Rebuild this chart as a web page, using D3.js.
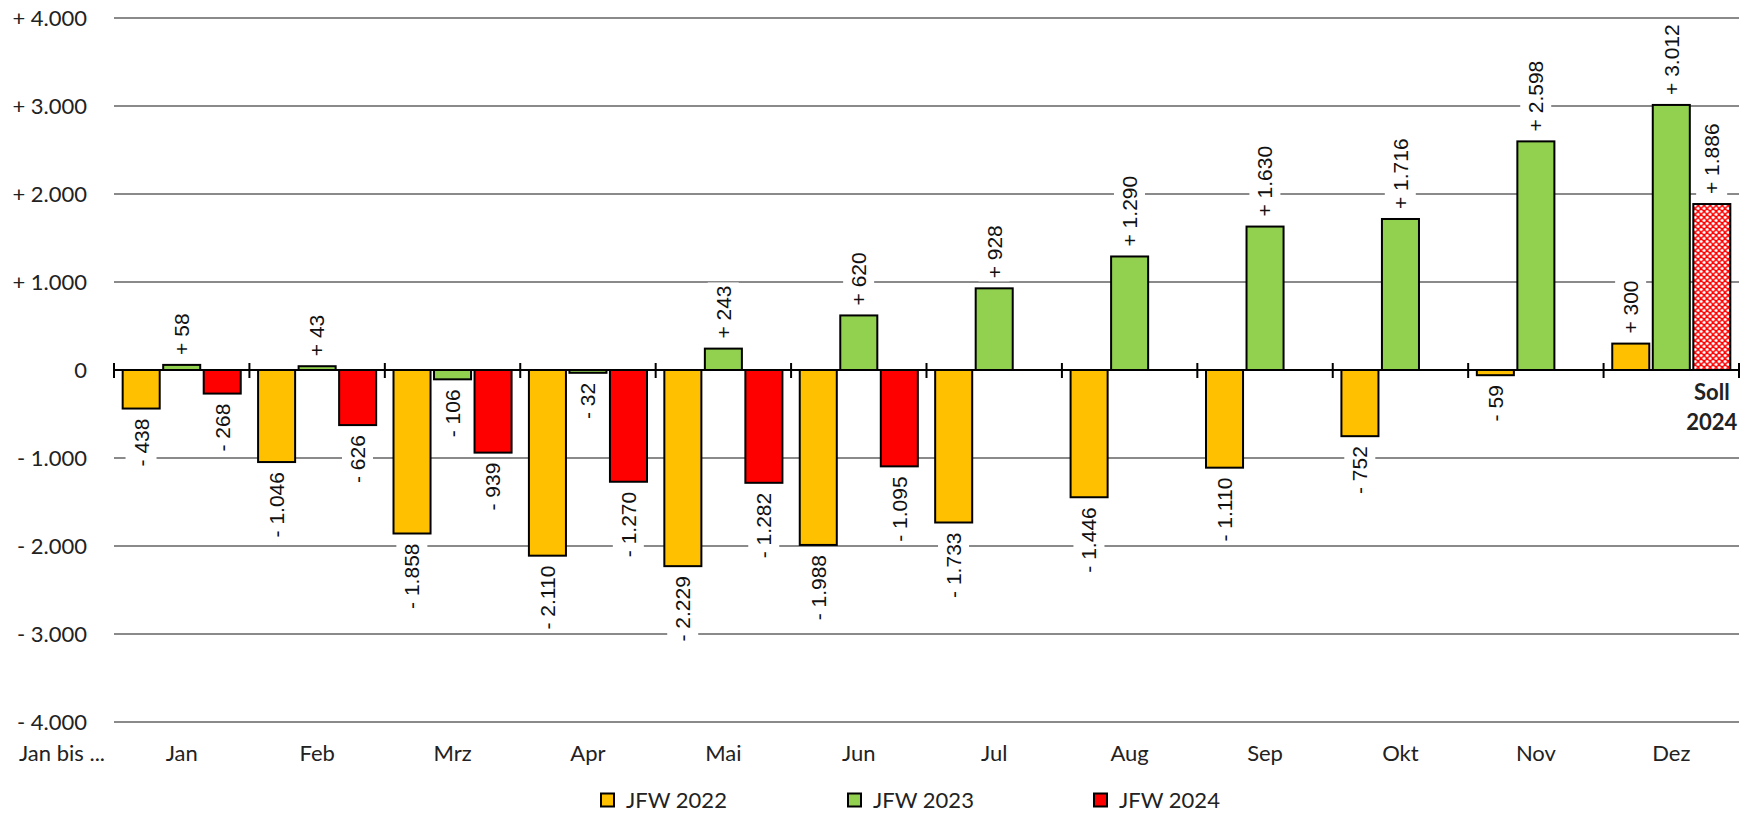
<!DOCTYPE html>
<html>
<head>
<meta charset="utf-8">
<script src="https://cdn.jsdelivr.net/npm/d3@7"></script>
<style>
  body { margin: 0; background: #fff; }
  svg { display: block; }
  .tick-lbl { font-family: Lato, "Open Sans", sans-serif; font-size: 22px; fill: #222; }
  .val-lbl { font-family: "Liberation Sans", Arial, sans-serif; font-size: 21px; fill: #111; }
</style>
</head>
<body>
<svg width="1748" height="813"></svg>
<script>
// months on the category axis
const months = ["Jan", "Feb", "Mrz", "Apr", "Mai", "Jun", "Jul", "Aug", "Sep", "Okt", "Nov", "Dez"];
const seriesNames = ["JFW 2022", "JFW 2023", "JFW 2024"];
const colors = ["#FFC000", "#92D050", "#FF0000"];

// cumulative values per month
const jfw2022 = [-438, -1046, -1858, -2110, -2229, -1988, -1733, -1446, -1110, -752, -59, 300];
const jfw2023 = [58, 43, -106, -32, 243, 620, 928, 1290, 1630, 1716, 2598, 3012];
const jfw2024 = [-268, -626, -939, -1270, -1282, -1095, null, null, null, null, null, 1886];
const sollMonth = "Dez"; // 2024 value in Dez is the target ("Soll")

const yTicks = [-4000, -3000, -2000, -1000, 0, 1000, 2000, 3000, 4000];

const plotLeft = 114, plotRight = 1739, plotTop = 18, plotBottom = 722;

const de = d3.formatLocale({ decimal: ",", thousands: ".", grouping: [3], currency: ["", " €"] });
const fmt = de.format(",d");
const signed = v => v > 0 ? "+ " + fmt(v) : v < 0 ? "- " + fmt(-v) : "0";

const svg = d3.select("svg");

// red net pattern for the Soll bar
const defs = svg.append("defs");
const pat = defs.append("pattern")
    .attr("id", "soll")
    .attr("patternUnits", "userSpaceOnUse")
    .attr("width", 6).attr("height", 6);
pat.append("rect").attr("width", 6).attr("height", 6).attr("fill", "#FF0000");
pat.append("path").attr("d", "M1.5,-0.5 L3.5,1.5 L1.5,3.5 L-0.5,1.5 Z").attr("fill", "#fff");
pat.append("path").attr("d", "M4.5,2.5 L6.5,4.5 L4.5,6.5 L2.5,4.5 Z").attr("fill", "#fff");

const x0 = d3.scaleBand().domain(months).range([plotLeft, plotRight]).padding(0);
const x1 = d3.scaleBand().domain(seriesNames).range([0, x0.bandwidth()])
    .paddingInner(0.086).paddingOuter(0.214);
const y = d3.scaleLinear().domain([-4000, 4000]).range([plotBottom, plotTop]);

// gridlines
svg.append("g")
    .selectAll("line")
    .data(yTicks.filter(d => d !== 0))
    .join("line")
    .attr("x1", plotLeft).attr("x2", plotRight)
    .attr("y1", d => y(d)).attr("y2", d => y(d))
    .attr("stroke", "#8a8a8a")
    .attr("stroke-width", 2);

// y axis labels
const yAxis = svg.append("g")
    .attr("transform", `translate(${plotLeft - 27},0)`)
    .call(d3.axisLeft(y).tickValues(yTicks).tickSize(0).tickPadding(0).tickFormat(signed));
yAxis.select(".domain").remove();
yAxis.attr("font-family", null).attr("font-size", null);
yAxis.selectAll("text").attr("class", "tick-lbl");

// bars
const table = months.map((m, i) => ({
    month: m,
    values: [jfw2022[i], jfw2023[i], jfw2024[i]]
}));

const groups = svg.append("g")
    .selectAll("g")
    .data(table)
    .join("g")
    .attr("transform", d => `translate(${x0(d.month)},0)`);

const entries = d => d.values
    .map((v, k) => ({ month: d.month, series: seriesNames[k], k: k, v: v }))
    .filter(e => e.v !== null);

groups.selectAll("rect")
    .data(entries)
    .join("rect")
    .attr("x", d => x1(d.series))
    .attr("width", x1.bandwidth())
    .attr("y", d => y(Math.max(0, d.v)))
    .attr("height", d => Math.abs(y(d.v) - y(0)))
    .attr("fill", d => (d.k === 2 && d.month === sollMonth) ? "url(#soll)" : colors[d.k])
    .attr("stroke", "#000")
    .attr("stroke-width", 2);

// zero axis with ticks at band boundaries
svg.append("line")
    .attr("x1", plotLeft).attr("x2", plotRight)
    .attr("y1", y(0)).attr("y2", y(0))
    .attr("stroke", "#000").attr("stroke-width", 2);
const bounds = months.map(m => x0(m)).concat([plotRight]);
svg.append("g")
    .selectAll("line")
    .data(bounds)
    .join("line")
    .attr("x1", d => d).attr("x2", d => d)
    .attr("y1", y(0) - 7).attr("y2", y(0) + 8)
    .attr("stroke", "#000").attr("stroke-width", 2);

// value labels, rotated, with white box behind
const labels = groups.selectAll("g.lbl")
    .data(entries)
    .join("g")
    .attr("class", "lbl")
    .attr("transform", d => {
        const cx = x1(d.series) + x1.bandwidth() / 2;
        const yy = d.v >= 0 ? y(d.v) - 10 : y(d.v) + 10;
        return `translate(${cx},${yy}) rotate(-90)`;
    });
labels.append("text")
    .attr("class", "val-lbl")
    .attr("dy", "0.35em")
    .attr("text-anchor", d => d.v >= 0 ? "start" : "end")
    .text(d => signed(d.v));
labels.each(function() {
    const g = d3.select(this);
    const bb = g.select("text").node().getBBox();
    g.insert("rect", "text")
        .attr("x", bb.x - 3).attr("y", bb.y - 4)
        .attr("width", bb.width + 6).attr("height", bb.height + 8)
        .attr("fill", "#fff");
});

// Soll 2024 note under the Dez target bar
const sollX = x0(sollMonth) + x1("JFW 2024") + x1.bandwidth() / 2;
svg.append("text")
    .attr("class", "tick-lbl")
    .attr("font-weight", "bold")
    .attr("text-anchor", "middle")
    .attr("x", sollX).attr("y", 400)
    .text("Soll");
svg.append("text")
    .attr("class", "tick-lbl")
    .attr("font-weight", "bold")
    .attr("text-anchor", "middle")
    .attr("x", sollX).attr("y", 430)
    .text("2024");

// month labels
svg.append("g")
    .selectAll("text")
    .data(months)
    .join("text")
    .attr("class", "tick-lbl")
    .attr("text-anchor", "middle")
    .attr("x", d => x0(d) + x0.bandwidth() / 2)
    .attr("y", 753)
    .attr("dy", "0.35em")
    .text(d => d);

svg.append("text")
    .attr("class", "tick-lbl")
    .attr("x", 19).attr("y", 753).attr("dy", "0.35em")
    .text("Jan bis ...");

// legend
const legendX = [601, 848, 1094];
const legend = svg.append("g")
    .selectAll("g")
    .data(seriesNames)
    .join("g")
    .attr("transform", (d, i) => `translate(${legendX[i]},800)`);
legend.append("rect")
    .attr("x", 0).attr("y", -6.5)
    .attr("width", 13).attr("height", 13)
    .attr("fill", (d, i) => colors[i])
    .attr("stroke", "#000").attr("stroke-width", 2);
legend.append("text")
    .attr("class", "tick-lbl")
    .attr("x", 25).attr("dy", "0.35em")
    .text(d => d);
</script>
</body>
</html>
